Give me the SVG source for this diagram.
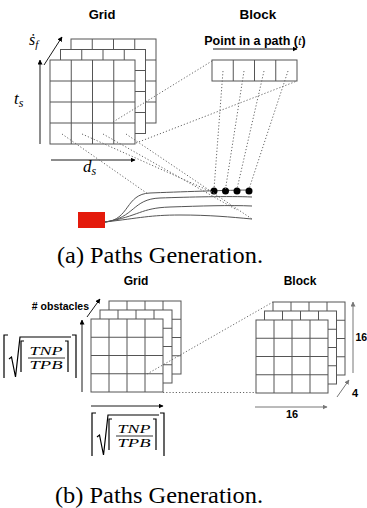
<svg xmlns="http://www.w3.org/2000/svg" xmlns:xlink="http://www.w3.org/1999/xlink" width="367" height="508" viewBox="0 0 367 508">
<style>
.t{font-family:"Liberation Sans",Arial,sans-serif;font-weight:bold;fill:#000}
.m{font-family:"Liberation Serif","DejaVu Serif",serif;font-style:italic;fill:#000}
.cap{font-family:"Liberation Serif","Times New Roman",serif;fill:#000}
.g{fill:#fff;stroke:#555;stroke-width:1}
.gl{stroke:#555;stroke-width:1;fill:none}
.dot{stroke:#666;stroke-width:1;stroke-dasharray:1.2 2;fill:none}
.ax{stroke:#000;stroke-width:0.9;fill:none;marker-end:url(#ah)}
.axg{stroke:#777;stroke-width:1;fill:none;marker-end:url(#ahg)}
.path{stroke:#555;stroke-width:1;fill:none}
.br{stroke:#000;stroke-width:1.2;fill:none}
</style>
<defs>
<marker id="ah" viewBox="0 0 10 10" refX="9" refY="5" markerWidth="5" markerHeight="5" orient="auto" markerUnits="userSpaceOnUse"><path d="M0,0 L10,5 L0,10 z" fill="#000"/></marker>
<marker id="ahg" viewBox="0 0 10 10" refX="9" refY="5" markerWidth="5" markerHeight="5" orient="auto" markerUnits="userSpaceOnUse"><path d="M0,0 L10,5 L0,10 z" fill="#777"/></marker>
<g id="gridA">
<rect class="g" x="0" y="0" width="85" height="84"/>
<path class="gl" d="M21.25,0V84M42.5,0V84M63.75,0V84M0,21H85M0,42H85M0,63H85"/>
</g>
<g id="gridB">
<rect class="g" x="0" y="0" width="72" height="73"/>
<path class="gl" d="M18,0V73M36,0V73M54,0V73M0,18.25H72M0,36.5H72M0,54.75H72"/>
</g>
<g id="formula">
<path class="br" d="M4,0H0V43"/>
<path class="br" d="M5,24L7.5,22L11.5,42L16,2H67"/>
<path class="br" d="M20,6H17V37"/>
<text class="m" x="42" y="20" font-size="13" text-anchor="middle" textLength="33" lengthAdjust="spacingAndGlyphs">TNP</text>
<path stroke="#000" stroke-width="0.8" d="M24,23H61"/>
<text class="m" x="42" y="34" font-size="13" text-anchor="middle" textLength="33" lengthAdjust="spacingAndGlyphs">TPB</text>
<path class="br" d="M61,6H64V37"/>
<path class="br" d="M68,0H72V43"/>
</g>
</defs>

<!-- (a) -->
<g id="gridTop">
<text class="t" x="102" y="19" font-size="13" text-anchor="middle">Grid</text>
<use xlink:href="#gridA" x="71" y="39"/>
<use xlink:href="#gridA" x="60.5" y="49.5"/>
<use xlink:href="#gridA" x="50" y="60"/>
</g>
<g id="axesTop">
<line class="ax" x1="40" y1="144" x2="40" y2="60"/>
<line class="ax" x1="51" y1="160" x2="135" y2="160"/>
<line class="ax" x1="44" y1="65" x2="62" y2="37"/>
<text class="m" x="14" y="104" font-size="17">t<tspan font-size="12" dy="3">s</tspan></text>
<text class="m" x="29" y="45" font-size="16">ṡ<tspan font-size="11" dy="3">f</tspan></text>
<text class="m" x="83" y="172" font-size="17">d<tspan font-size="12" dy="3">s</tspan></text>
</g>
<g id="blockTop">
<text class="t" x="258" y="19" font-size="13.5" text-anchor="middle">Block</text>
<text class="t" x="255" y="45" font-size="12.5" text-anchor="middle">Point in a path (<tspan class="m" font-weight="normal" font-size="13">t</tspan>)</text>
<line class="ax" x1="213" y1="49" x2="297" y2="49"/>
<rect class="g" x="212" y="60" width="85" height="21"/>
<path class="gl" d="M233.25,60V81M254.5,60V81M275.75,60V81"/>
</g>
<g id="vehicle">
<rect x="78" y="212" width="27" height="16" fill="#e41a0b"/>
<path class="path" d="M105,222 C130,220 125,194 150,193 S230,190 252,190"/>
<path class="path" d="M105,222 C135,218 132,199 160,198 S230,196 252,197"/>
<path class="path" d="M105,222 C140,216 140,208 170,207 S230,205 252,206"/>
<path class="path" d="M105,222 C140,218 150,215 180,215 S230,217 252,219"/>
<circle cx="214" cy="191" r="3.5" fill="#000"/>
<circle cx="225.5" cy="191" r="3.5" fill="#000"/>
<circle cx="237" cy="191" r="3.5" fill="#000"/>
<circle cx="249" cy="191" r="3.5" fill="#000"/>
</g>
<g id="connectorsTop">
<line class="dot" x1="113" y1="122" x2="212" y2="61"/>
<line class="dot" x1="136" y1="143" x2="297" y2="81"/>
<line class="dot" x1="223" y1="71" x2="214" y2="189"/>
<line class="dot" x1="244" y1="71" x2="225.5" y2="189"/>
<line class="dot" x1="264" y1="71" x2="237" y2="189"/>
<line class="dot" x1="288" y1="71" x2="249" y2="189"/>
<line class="dot" x1="62" y1="134" x2="148" y2="194"/>
<line class="dot" x1="82" y1="134" x2="214" y2="193"/>
<line class="dot" x1="103" y1="134" x2="237" y2="210"/>
<line class="dot" x1="126" y1="134" x2="252" y2="219"/>
</g>
<text class="cap" x="57" y="263" font-size="23" textLength="206" lengthAdjust="spacingAndGlyphs">(a) Paths Generation.</text>

<!-- (b) -->
<g id="gridBottom">
<text class="t" x="136" y="285" font-size="12" text-anchor="middle">Grid</text>
<use xlink:href="#gridB" x="109" y="301"/>
<use xlink:href="#gridB" x="100" y="310"/>
<use xlink:href="#gridB" x="91" y="319"/>
</g>
<g id="axesBottom">
<line class="ax" x1="82" y1="392" x2="82" y2="320"/>
<line class="ax" x1="87" y1="317" x2="100" y2="299"/>
<line class="ax" x1="91" y1="406" x2="163" y2="406"/>
<text class="t" x="89" y="310" font-size="10.5" text-anchor="end">#&#160;obstacles</text>
<use xlink:href="#formula" x="4" y="335"/>
<use xlink:href="#formula" x="92" y="413"/>
</g>
<g id="blockBottom">
<text class="t" x="300" y="285" font-size="12" text-anchor="middle">Block</text>
<use xlink:href="#gridB" x="273" y="302"/>
<use xlink:href="#gridB" x="264.5" y="311"/>
<use xlink:href="#gridB" x="256" y="320"/>
<line class="axg" x1="353" y1="373" x2="353" y2="302"/>
<line class="axg" x1="337" y1="397" x2="349" y2="380"/>
<line class="axg" x1="255" y1="407" x2="327" y2="407"/>
<text class="t" x="355.5" y="341" font-size="10.5">16</text>
<text class="t" x="352" y="397" font-size="11">4</text>
<text class="t" x="292" y="418" font-size="11" text-anchor="middle">16</text>
</g>
<g id="connectorsBottom">
<line class="dot" x1="147" y1="374" x2="273" y2="302"/>
<line class="dot" x1="163" y1="392.5" x2="256" y2="392.5"/>
</g>
<text class="cap" x="55" y="503" font-size="23" textLength="208" lengthAdjust="spacingAndGlyphs">(b) Paths Generation.</text>
</svg>
